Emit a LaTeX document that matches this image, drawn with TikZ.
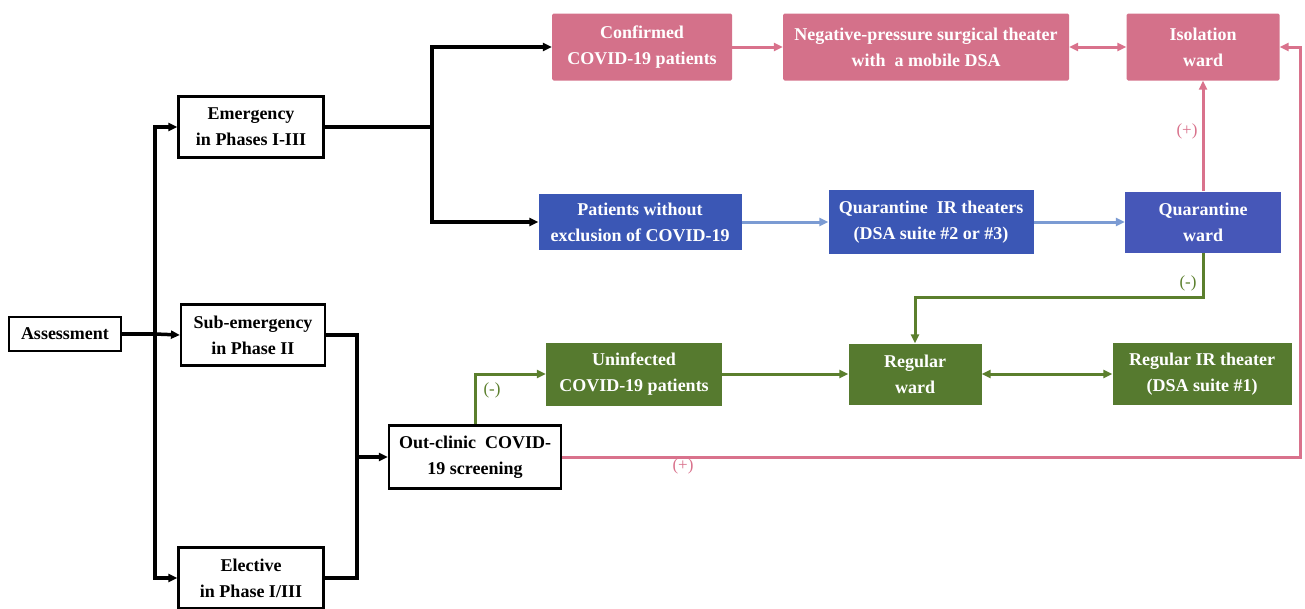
\documentclass[tikz,border=0pt]{standalone}
\usepackage{fontspec}
\setmainfont{Liberation Serif}
\usetikzlibrary{arrows.meta}
\definecolor{pinkc}{HTML}{D4718A}
\definecolor{pinkl}{HTML}{D9728C}
\definecolor{blued}{HTML}{3B57B5}
\definecolor{bluem}{HTML}{4657B8}
\definecolor{bluel}{HTML}{7B9BD3}
\definecolor{greenc}{HTML}{567A2F}
\definecolor{greenl}{HTML}{5B7F2D}
\tikzset{
  base/.style={font=\bfseries\fontsize{18}{26}\selectfont, align=center, inner sep=0pt},
  wbox/.style={base, draw=black, line width=2.2pt, fill=white},
  pbox/.style={base, fill=pinkc, text=white, rounded corners=1.5pt},
  bbox/.style={base, fill=blued, text=white},
  gbox/.style={base, fill=greenc, text=white},
  tip/.style={-{Triangle[length=9pt,width=8pt]}},
  dtip/.style={{Triangle[length=9pt,width=8pt]}-{Triangle[length=9pt,width=8pt]}},
  blk/.style={draw=black, line width=3.5pt},
  pnk/.style={draw=pinkl, line width=3pt},
  bln/.style={draw=bluel, line width=3pt},
  grn/.style={draw=greenl, line width=3pt},
  lbl/.style={font=\fontsize{17}{19}\selectfont, inner sep=0pt}
}
\begin{document}
\begin{tikzpicture}[x=1pt,y=-1pt]
\useasboundingbox (0,0) rectangle (1305,608);
% left white boxes
\node[wbox, minimum width=112pt, minimum height=34pt] (ass) at (65,334) {Assessment};
\node[wbox, minimum width=145pt, minimum height=61pt] (emg) at (251,127) {Emergency\\in Phases I-III};
\node[wbox, minimum width=144pt, minimum height=61pt] (sub) at (253,335) {Sub-emergency\\in Phase II};
\node[wbox, minimum width=145pt, minimum height=61pt] (ele) at (251,578) {Elective\\in Phase I/III};
\node[wbox, minimum width=172pt, minimum height=63pt] (out) at (475,457) {Out-clinic\ \ COVID-\\19 screening};
% pink row
\node[pbox, minimum width=180pt, minimum height=67pt] (conf) at (642,47) {Confirmed\\COVID-19 patients};
\node[pbox, minimum width=286pt, minimum height=67pt] (neg) at (926,47) {Negative-pressure surgical theater\\with\ \ a mobile DSA};
\node[pbox, minimum width=153pt, minimum height=67pt] (iso) at (1203,47) {Isolation\\ward};
% blue row
\node[bbox, minimum width=203pt, minimum height=56pt] (pwo) at (640,222) {Patients without\\exclusion of COVID-19};
\node[bbox, minimum width=205pt, minimum height=64pt] (qir) at (931,222) {Quarantine\ \ IR theaters\\(DSA suite \#2 or \#3)};
\node[bbox, fill=bluem, minimum width=156pt, minimum height=61pt] (qw) at (1203,222) {Quarantine\\ward};
% green row
\node[gbox, minimum width=176pt, minimum height=63pt] (unin) at (634,374) {Uninfected\\COVID-19 patients};
\node[gbox, minimum width=133pt, minimum height=61pt] (rw) at (915,374) {Regular\\ward};
\node[gbox, minimum width=179pt, minimum height=62pt] (rir) at (1202,374) {Regular IR theater\\(DSA suite \#1)};
% black connectors
\coordinate (b1) at (155,334);
\draw[blk] (ass.east) -- (b1);
\draw[blk, tip] (b1) |- (emg.west);
\draw[blk, tip] (b1) |- (ele.west);
\draw[blk, tip] (b1) -- (sub.west);
\coordinate (b2) at (432,127);
\draw[blk] (emg.east) -- (b2);
\draw[blk, tip] (b2) |- (conf.west);
\draw[blk, tip] (b2) |- (pwo.west);
\coordinate (b3) at (357,457);
\draw[blk] (sub.east) -| (b3);
\draw[blk] (ele.east) -| (b3);
\draw[blk, tip] (b3) -- (out.west);
% pink connectors
\draw[pnk, tip] (conf.east) -- (neg.west);
\draw[pnk, dtip] (neg.east) -- (iso.west);
\draw[pnk, tip] (qw.north) -- (iso.south);
\coordinate (c1) at (1300,457);
\draw[pnk, tip] (out.east) -- (c1) |- (iso.east);
\node[lbl, text=pinkl] (lp1) at (1187,131) {(+)};
\node[lbl, text=pinkl] (lp2) at (683,466) {(+)};
% blue connectors
\draw[bln, tip] (pwo.east) -- (qir.west);
\draw[bln, tip] (qir.east) -- (qw.west);
% green connectors
\coordinate (c2) at (1203,297);
\draw[grn, tip] (qw.south) -- (c2) -| (rw.north);
\draw[grn, tip] (out.north) |- (unin.west);
\draw[grn, tip] (unin.east) -- (rw.west);
\draw[grn, dtip] (rw.east) -- (rir.west);
\node[lbl, text=greenl] (lg1) at (1188,283) {(-)};
\node[lbl, text=greenl] (lg2) at (492,390) {(-)};
\end{tikzpicture}
\end{document}
